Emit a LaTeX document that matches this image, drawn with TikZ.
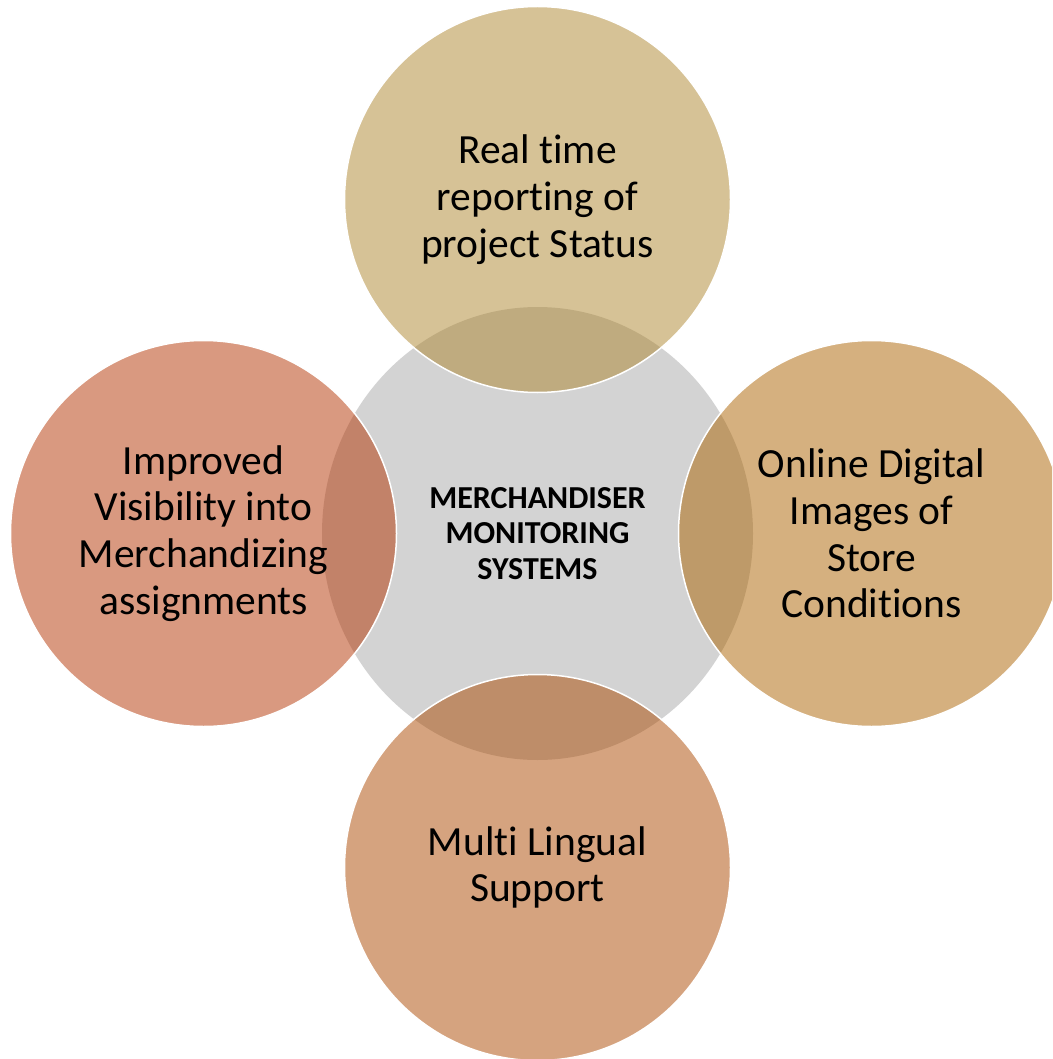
\documentclass[tikz,border=0pt]{standalone}
\usepackage{fontspec}
\setmainfont{Carlito}[RawFeature={-liga;-clig;-calt;-dlig}]
\usetikzlibrary{shapes.geometric}

\definecolor{hubgray}{RGB}{211,211,211}
\definecolor{statustan}{RGB}{173,133,45}
\definecolor{imagetan}{RGB}{171,98,0}
\definecolor{lingualtan}{RGB}{171,72,0}
\definecolor{visibred}{RGB}{179,51,1}

\begin{document}
\begin{tikzpicture}[x=1pt,y=-1pt,node distance=334pt,
                    hub node/.style={ellipse,fill=hubgray,minimum width=431pt,minimum height=453pt,inner sep=0pt,
                                     align=center,font=\bfseries\fontsize{32}{35.5}\selectfont},
                    main node/.style={circle,draw=white,line width=1.5pt,fill opacity=0.5,draw opacity=1,text opacity=1,
                                      minimum size=386pt,inner sep=0pt,align=center,font=\fontsize{41.5}{46.7}\selectfont}]

          \useasboundingbox (0,0) rectangle (1052,1059);
          \clip (0,0) rectangle (1052,1059);

          \node[hub node] (hub) at (537.5,533.5) {MERCHANDISER\\MONITORING\\SYSTEMS};

          \node[main node,fill=statustan] (status) [above of=hub] {Real t\kern0pt ime\\reporting of\\project Status};
          \node[main node,fill=imagetan] (images) [right of=hub] {Online Digital\\Images of\\Store\\Conditions};
          \node[main node,fill=lingualtan] (lingual) [below of=hub] {Mult\kern0pt i Lingual\\Support\rule[-3pt]{0pt}{1pt}};
          \node[main node,fill=visibred] (visib) [left of=hub] {Improved\\Visibility into\\Merchandizing\\assignments\rule[-3pt]{0pt}{1pt}};

        \end{tikzpicture}
\end{document}
